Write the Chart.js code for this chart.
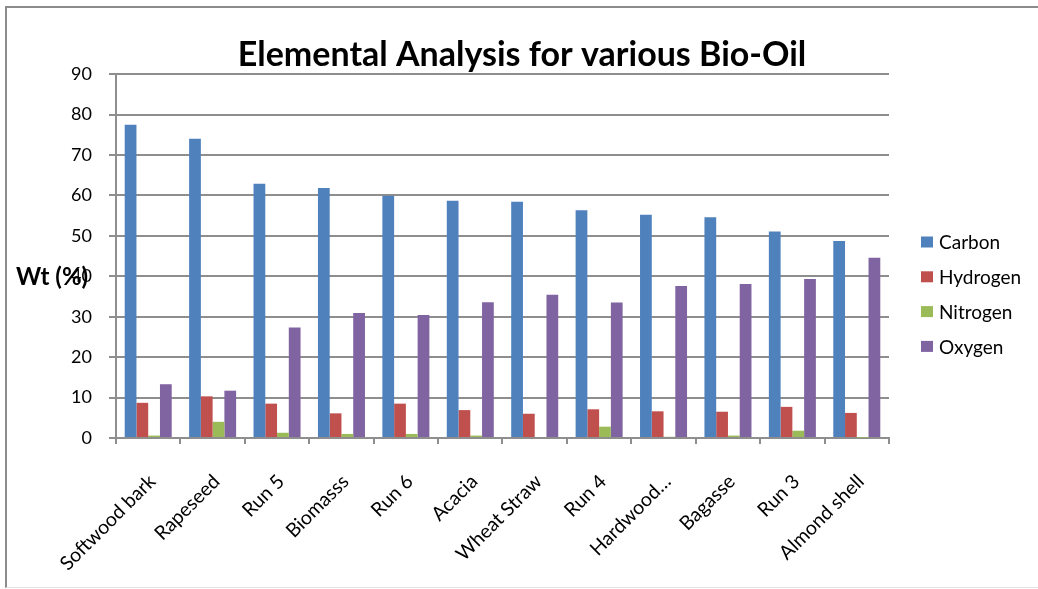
<!DOCTYPE html>
<html>
<head>
<meta charset="utf-8">
<title>Elemental Analysis for various Bio-Oil</title>
<script src="https://cdn.jsdelivr.net/npm/chart.js@4"></script>
<style>
  html, body { margin: 0; padding: 0; background: #fff; }
  #wrap { position: relative; width: 1038px; height: 589px; }
  #frame {
    position: absolute; left: 5px; top: 6px; right: 0; bottom: 1px;
    border-left: 2px solid #8c8c8c; border-top: 2px solid #8c8c8c;
    border-bottom: 1px solid #e4e4e4; pointer-events: none;
  }
  canvas { position: absolute; left: 0; top: 0; }
</style>
</head>
<body>
<div id="wrap">
  <canvas id="chart" width="1038" height="589"></canvas>
  <div id="frame"></div>
</div>
<script>
// Samples (x axis)
const categories = ['Softwood bark', 'Rapeseed', 'Run 5', 'Biomasss', 'Run 6', 'Acacia',
  'Wheat Straw', 'Run 4', 'Hardwood…', 'Bagasse', 'Run 3', 'Almond shell'];

// Elemental composition, wt %
const carbon   = [77.5, 74.0, 62.9, 61.8, 59.9, 58.7, 58.4, 56.3, 55.2, 54.6, 51.1, 48.7];
const hydrogen = [8.7, 10.3, 8.5, 6.1, 8.5, 6.9, 6.0, 7.1, 6.6, 6.5, 7.7, 6.2];
const nitrogen = [0.6, 4.0, 1.3, 1.0, 1.0, 0.6, 0.0, 2.8, 0.3, 0.6, 1.8, 0.1];
const oxygen   = [13.3, 11.7, 27.3, 30.9, 30.4, 33.6, 35.4, 33.5, 37.6, 38.1, 39.3, 44.6];

const seriesNames  = ['Carbon', 'Hydrogen', 'Nitrogen', 'Oxygen'];
const seriesColors = ['#4f81bd', '#c0504d', '#9bbb59', '#8064a2'];

// Y axis ticks
const yMin = 0, yMax = 90, yStep = 10;

const FONT = 'Lato, "Open Sans", "DejaVu Sans", sans-serif';
const GRID = '#8e8e8e';

// "Wt (%)" axis caption, written horizontally left of the axis, level with 40
const yLabelPlugin = {
  id: 'yLabel',
  afterDraw(chart) {
    const { ctx, scales } = chart;
    ctx.save();
    ctx.font = 'bold 24px ' + FONT;
    ctx.fillStyle = '#000';
    ctx.textAlign = 'left';
    ctx.textBaseline = 'middle';
    ctx.fillText('Wt (%)', 16, scales.y.getPixelForValue(40) + 1);
    ctx.restore();
  }
};

// Legend on the right, built from the datasets
const sideLegendPlugin = {
  id: 'sideLegend',
  afterDraw(chart) {
    const { ctx } = chart;
    const x0 = 921, y0 = 242, gap = 34.8;
    ctx.save();
    ctx.font = '19px ' + FONT;
    ctx.textBaseline = 'middle';
    ctx.textAlign = 'left';
    chart.data.datasets.forEach((ds, i) => {
      const yc = y0 + i * gap;
      ctx.fillStyle = ds.backgroundColor;
      ctx.fillRect(x0, yc - 5.5, 12, 11);
      ctx.fillStyle = '#000';
      ctx.fillText(ds.label, x0 + 18, yc + 1);
    });
    ctx.restore();
  }
};

const seriesData = [carbon, hydrogen, nitrogen, oxygen];

new Chart(document.getElementById('chart'), {
  type: 'bar',
  data: {
    labels: categories,
    datasets: seriesNames.map((name, i) => ({
      label: name,
      data: seriesData[i],
      backgroundColor: seriesColors[i],
      borderWidth: 0,
      categoryPercentage: 0.73,
      barPercentage: 1.0,
      yAxisID: 'y'
    }))
  },
  plugins: [yLabelPlugin, sideLegendPlugin],
  options: {
    responsive: false,
    animation: false,
    layout: { padding: { top: 16, left: 6, right: 0, bottom: 0 } },
    plugins: {
      legend: { display: false },
      tooltip: { enabled: false },
      title: {
        display: true,
        text: 'Elemental Analysis for various Bio-Oil',
        color: '#000',
        font: { family: FONT, size: 34, weight: 'bold', lineHeight: 1.15 },
        padding: { top: 19, bottom: 0 }
      }
    },
    scales: {
      x: {
        grid: {
          offset: true,
          drawOnChartArea: false,
          drawTicks: true,
          tickLength: 6,
          color: GRID,
          lineWidth: 2
        },
        border: { color: GRID, width: 2 },
        ticks: {
          color: '#000',
          font: { family: FONT, size: 19.5 },
          minRotation: 45,
          maxRotation: 45,
          autoSkip: false,
          padding: 26,
          labelOffset: 4
        },
        afterFit(scale) { scale.height = 151; }
      },
      y: {
        min: yMin,
        max: yMax,
        grid: {
          color: GRID,
          lineWidth: 2,
          drawTicks: true,
          tickLength: 7
        },
        border: { color: GRID, width: 2 },
        ticks: {
          stepSize: yStep,
          color: '#000',
          font: { family: FONT, size: 18 },
          padding: 17
        },
        afterFit(scale) { scale.width = 110; }
      },
      // empty band on the right that keeps room for the legend
      side: {
        type: 'linear',
        position: 'right',
        min: 0,
        max: 1,
        grid: { display: false, drawTicks: false },
        border: { display: false },
        ticks: { display: false },
        afterFit(scale) { scale.width = 149; }
      }
    }
  }
});
</script>
</body>
</html>
